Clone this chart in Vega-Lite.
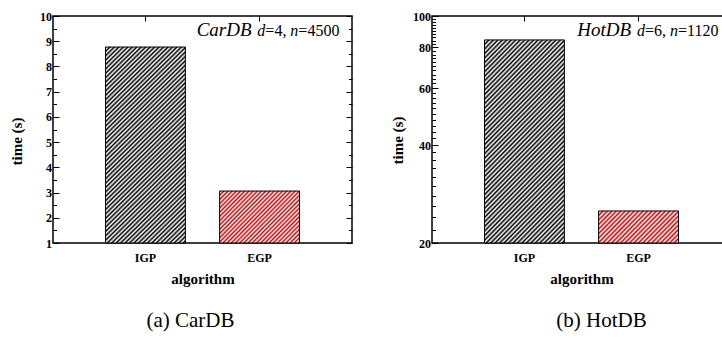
{
"$schema":"https://vega.github.io/schema/vega-lite/v6.json",
"background":"white",
"padding":{"left":8,"top":9,"right":0,"bottom":0},
"spacing":35,
"config":{
 "view":{"stroke":"#000","strokeWidth":1.5}
},
"hconcat":[
{
 "width":299,"height":227,
 "title":{"text":"(a) CarDB","orient":"bottom","anchor":"middle","frame":"group","dx":-12,"offset":24,"font":"Liberation Serif","fontSize":21,"fontWeight":"normal","color":"#000"},
 "data":{"values":[{"algorithm":"IGP","time":8.77},{"algorithm":"EGP","time":3.06}]},
 "resolve":{"axis":{"x":"independent","y":"independent"}},
 "layer":[
  {"transform":[{"filter":"datum.algorithm === 'IGP'"}],
   "mark":{"type":"bar","stroke":"#000","strokeWidth":1,"fill":{"gradient":"linear","x1":0,"y1":0,"x2":0.484,"y2":1.207,"stops":[
{"offset":0,"color":"#000"},{"offset":0.008,"color":"#fff"},{"offset":0.016,"color":"#000"},{"offset":0.024,"color":"#fff"},{"offset":0.032,"color":"#000"},{"offset":0.04,"color":"#fff"},{"offset":0.048,"color":"#000"},{"offset":0.056,"color":"#fff"},{"offset":0.064,"color":"#000"},{"offset":0.072,"color":"#fff"},
{"offset":0.08,"color":"#000"},{"offset":0.088,"color":"#fff"},{"offset":0.096,"color":"#000"},{"offset":0.104,"color":"#fff"},{"offset":0.112,"color":"#000"},{"offset":0.12,"color":"#fff"},{"offset":0.128,"color":"#000"},{"offset":0.136,"color":"#fff"},{"offset":0.144,"color":"#000"},{"offset":0.152,"color":"#fff"},
{"offset":0.16,"color":"#000"},{"offset":0.168,"color":"#fff"},{"offset":0.176,"color":"#000"},{"offset":0.184,"color":"#fff"},{"offset":0.192,"color":"#000"},{"offset":0.2,"color":"#fff"},{"offset":0.208,"color":"#000"},{"offset":0.216,"color":"#fff"},{"offset":0.224,"color":"#000"},{"offset":0.232,"color":"#fff"},
{"offset":0.24,"color":"#000"},{"offset":0.248,"color":"#fff"},{"offset":0.256,"color":"#000"},{"offset":0.264,"color":"#fff"},{"offset":0.272,"color":"#000"},{"offset":0.28,"color":"#fff"},{"offset":0.288,"color":"#000"},{"offset":0.296,"color":"#fff"},{"offset":0.304,"color":"#000"},{"offset":0.312,"color":"#fff"},
{"offset":0.32,"color":"#000"},{"offset":0.328,"color":"#fff"},{"offset":0.336,"color":"#000"},{"offset":0.344,"color":"#fff"},{"offset":0.352,"color":"#000"},{"offset":0.36,"color":"#fff"},{"offset":0.368,"color":"#000"},{"offset":0.376,"color":"#fff"},{"offset":0.384,"color":"#000"},{"offset":0.392,"color":"#fff"},
{"offset":0.4,"color":"#000"},{"offset":0.408,"color":"#fff"},{"offset":0.416,"color":"#000"},{"offset":0.424,"color":"#fff"},{"offset":0.432,"color":"#000"},{"offset":0.44,"color":"#fff"},{"offset":0.448,"color":"#000"},{"offset":0.456,"color":"#fff"},{"offset":0.464,"color":"#000"},{"offset":0.472,"color":"#fff"},
{"offset":0.48,"color":"#000"},{"offset":0.488,"color":"#fff"},{"offset":0.496,"color":"#000"},{"offset":0.504,"color":"#fff"},{"offset":0.512,"color":"#000"},{"offset":0.52,"color":"#fff"},{"offset":0.528,"color":"#000"},{"offset":0.536,"color":"#fff"},{"offset":0.544,"color":"#000"},{"offset":0.552,"color":"#fff"},
{"offset":0.56,"color":"#000"},{"offset":0.568,"color":"#fff"},{"offset":0.576,"color":"#000"},{"offset":0.584,"color":"#fff"},{"offset":0.592,"color":"#000"},{"offset":0.6,"color":"#fff"},{"offset":0.608,"color":"#000"},{"offset":0.616,"color":"#fff"},{"offset":0.624,"color":"#000"},{"offset":0.632,"color":"#fff"},
{"offset":0.64,"color":"#000"},{"offset":0.648,"color":"#fff"},{"offset":0.656,"color":"#000"},{"offset":0.664,"color":"#fff"},{"offset":0.672,"color":"#000"},{"offset":0.68,"color":"#fff"},{"offset":0.688,"color":"#000"},{"offset":0.696,"color":"#fff"},{"offset":0.704,"color":"#000"},{"offset":0.712,"color":"#fff"},
{"offset":0.72,"color":"#000"},{"offset":0.728,"color":"#fff"},{"offset":0.736,"color":"#000"},{"offset":0.744,"color":"#fff"},{"offset":0.752,"color":"#000"},{"offset":0.76,"color":"#fff"},{"offset":0.768,"color":"#000"},{"offset":0.776,"color":"#fff"},{"offset":0.784,"color":"#000"},{"offset":0.792,"color":"#fff"},
{"offset":0.8,"color":"#000"},{"offset":0.808,"color":"#fff"},{"offset":0.816,"color":"#000"},{"offset":0.824,"color":"#fff"},{"offset":0.832,"color":"#000"},{"offset":0.84,"color":"#fff"},{"offset":0.848,"color":"#000"},{"offset":0.856,"color":"#fff"},{"offset":0.864,"color":"#000"},{"offset":0.872,"color":"#fff"},
{"offset":0.88,"color":"#000"},{"offset":0.888,"color":"#fff"},{"offset":0.896,"color":"#000"},{"offset":0.904,"color":"#fff"},{"offset":0.912,"color":"#000"},{"offset":0.92,"color":"#fff"},{"offset":0.928,"color":"#000"},{"offset":0.936,"color":"#fff"},{"offset":0.944,"color":"#000"},{"offset":0.952,"color":"#fff"},
{"offset":0.96,"color":"#000"},{"offset":0.968,"color":"#fff"},{"offset":0.976,"color":"#000"},{"offset":0.984,"color":"#fff"},{"offset":0.992,"color":"#000"},{"offset":1,"color":"#fff"}
]}},
   "encoding":{
    "x":{"field":"algorithm","type":"nominal","sort":["IGP","EGP"],"scale":{"domain":["IGP","EGP"],"paddingInner":0.3,"paddingOuter":0.46},
         "axis":{"orient":"bottom","labelAngle":0,"ticks":false,"domain":false,"labelFont":"Liberation Serif","labelFontWeight":"bold","labelFontSize":12,"labelColor":"#000","labelPadding":9,"title":"algorithm","titleFont":"Liberation Serif","titleFontWeight":"bold","titleFontSize":15,"titleColor":"#000","titlePadding":8}},
    "y":{"field":"time","type":"quantitative","scale":{"domain":[1,10],"nice":false,"zero":false},
         "axis":{"orient":"left","values":[1,1.5,2,2.5,3,3.5,4,4.5,5,5.5,6,6.5,7,7.5,8,8.5,9,9.5,10],"labelExpr":"datum.value % 1 === 0 ? format(datum.value, 'd') : ''","tickSize":{"condition":{"test":"datum.value % 1 === 0","value":-6},"value":-3.5},"tickColor":"#000","tickWidth":1,"domain":false,"grid":false,"labelFont":"Liberation Serif","labelFontWeight":"bold","labelFontSize":12,"labelColor":"#000","labelPadding":7.5,"title":"time (s)","titleFont":"Liberation Serif","titleFontWeight":"bold","titleFontSize":15,"titleColor":"#000","titlePadding":15,"titleY":125}},
    "y2":{"datum":1}}},
  {"transform":[{"filter":"datum.algorithm === 'EGP'"}],
   "mark":{"type":"bar","stroke":"#000","strokeWidth":1,"fill":{"gradient":"linear","x1":0,"y1":0,"x2":1.163,"y2":0.747,"stops":[
{"offset":0,"color":"#c00"},{"offset":0.016,"color":"#fff"},{"offset":0.032,"color":"#c00"},{"offset":0.048,"color":"#fff"},{"offset":0.064,"color":"#c00"},{"offset":0.08,"color":"#fff"},{"offset":0.096,"color":"#c00"},{"offset":0.112,"color":"#fff"},{"offset":0.128,"color":"#c00"},{"offset":0.144,"color":"#fff"},
{"offset":0.16,"color":"#c00"},{"offset":0.176,"color":"#fff"},{"offset":0.192,"color":"#c00"},{"offset":0.208,"color":"#fff"},{"offset":0.224,"color":"#c00"},{"offset":0.24,"color":"#fff"},{"offset":0.256,"color":"#c00"},{"offset":0.272,"color":"#fff"},{"offset":0.288,"color":"#c00"},{"offset":0.304,"color":"#fff"},
{"offset":0.32,"color":"#c00"},{"offset":0.336,"color":"#fff"},{"offset":0.352,"color":"#c00"},{"offset":0.368,"color":"#fff"},{"offset":0.384,"color":"#c00"},{"offset":0.4,"color":"#fff"},{"offset":0.416,"color":"#c00"},{"offset":0.432,"color":"#fff"},{"offset":0.448,"color":"#c00"},{"offset":0.464,"color":"#fff"},
{"offset":0.48,"color":"#c00"},{"offset":0.496,"color":"#fff"},{"offset":0.512,"color":"#c00"},{"offset":0.528,"color":"#fff"},{"offset":0.544,"color":"#c00"},{"offset":0.56,"color":"#fff"},{"offset":0.576,"color":"#c00"},{"offset":0.592,"color":"#fff"},{"offset":0.608,"color":"#c00"},{"offset":0.624,"color":"#fff"},
{"offset":0.64,"color":"#c00"},{"offset":0.656,"color":"#fff"},{"offset":0.672,"color":"#c00"},{"offset":0.688,"color":"#fff"},{"offset":0.704,"color":"#c00"},{"offset":0.72,"color":"#fff"},{"offset":0.736,"color":"#c00"},{"offset":0.752,"color":"#fff"},{"offset":0.768,"color":"#c00"},{"offset":0.784,"color":"#fff"},
{"offset":0.8,"color":"#c00"},{"offset":0.816,"color":"#fff"},{"offset":0.832,"color":"#c00"},{"offset":0.848,"color":"#fff"},{"offset":0.864,"color":"#c00"},{"offset":0.88,"color":"#fff"},{"offset":0.896,"color":"#c00"},{"offset":0.912,"color":"#fff"},{"offset":0.928,"color":"#c00"},{"offset":0.944,"color":"#fff"},
{"offset":0.96,"color":"#c00"},{"offset":0.976,"color":"#fff"},{"offset":0.992,"color":"#c00"}
]}},
   "encoding":{"x":{"field":"algorithm","type":"nominal","axis":null},"y":{"field":"time","type":"quantitative","axis":null},"y2":{"datum":1}}},
  {"data":{"values":[{}]},
   "mark":{"type":"text","text":"CarDB","font":"Liberation Serif","fontStyle":"italic","fontSize":19,"align":"right","baseline":"alphabetic","dx":-8,"color":"#000"},
   "encoding":{
    "x":{"datum":"EGP","type":"nominal","axis":{"orient":"top","labels":false,"tickSize":-5,"tickColor":"#000","domain":false,"title":null}},
    "y":{"datum":9.21,"type":"quantitative","axis":{"orient":"right","values":[1,1.5,2,2.5,3,3.5,4,4.5,5,5.5,6,6.5,7,7.5,8,8.5,9,9.5,10],"labels":false,"tickSize":{"condition":{"test":"datum.value % 1 === 0","value":-6},"value":-3.5},"tickColor":"#000","domain":false,"grid":false,"title":null}}}},
  {"data":{"values":[{}]},
   "mark":{"type":"text","text":"d","font":"Liberation Serif","fontStyle":"italic","fontSize":16,"align":"left","baseline":"alphabetic","dx":-2.2,"color":"#000"},
   "encoding":{"x":{"datum":"EGP","type":"nominal","axis":null},"y":{"datum":9.21,"type":"quantitative","axis":null}}},
  {"data":{"values":[{}]},
   "mark":{"type":"text","text":"=4,","font":"Liberation Serif","fontSize":16,"align":"left","baseline":"alphabetic","dx":5.8,"color":"#000"},
   "encoding":{"x":{"datum":"EGP","type":"nominal","axis":null},"y":{"datum":9.21,"type":"quantitative","axis":null}}},
  {"data":{"values":[{}]},
   "mark":{"type":"text","text":"n","font":"Liberation Serif","fontStyle":"italic","fontSize":16,"align":"left","baseline":"alphabetic","dx":30.8,"color":"#000"},
   "encoding":{"x":{"datum":"EGP","type":"nominal","axis":null},"y":{"datum":9.21,"type":"quantitative","axis":null}}},
  {"data":{"values":[{}]},
   "mark":{"type":"text","text":"=4500","font":"Liberation Serif","fontSize":16,"align":"left","baseline":"alphabetic","dx":38.8,"color":"#000"},
   "encoding":{"x":{"datum":"EGP","type":"nominal","axis":null},"y":{"datum":9.21,"type":"quantitative","axis":null}}}
 ]
},
{
 "width":299,"height":227,
 "title":{"text":"(b) HotDB","orient":"bottom","anchor":"middle","frame":"group","dx":20,"offset":24,"font":"Liberation Serif","fontSize":21,"fontWeight":"normal","color":"#000"},
 "data":{"values":[{"algorithm":"IGP","time":84.4},{"algorithm":"EGP","time":25.1}]},
 "resolve":{"axis":{"x":"independent","y":"independent"}},
 "layer":[
  {"transform":[{"filter":"datum.algorithm === 'IGP'"}],
   "mark":{"type":"bar","stroke":"#000","strokeWidth":1,"fill":{"gradient":"linear","x1":0,"y1":0,"x2":0.484,"y2":1.207,"stops":[
{"offset":0,"color":"#000"},{"offset":0.008,"color":"#fff"},{"offset":0.016,"color":"#000"},{"offset":0.024,"color":"#fff"},{"offset":0.032,"color":"#000"},{"offset":0.04,"color":"#fff"},{"offset":0.048,"color":"#000"},{"offset":0.056,"color":"#fff"},{"offset":0.064,"color":"#000"},{"offset":0.072,"color":"#fff"},
{"offset":0.08,"color":"#000"},{"offset":0.088,"color":"#fff"},{"offset":0.096,"color":"#000"},{"offset":0.104,"color":"#fff"},{"offset":0.112,"color":"#000"},{"offset":0.12,"color":"#fff"},{"offset":0.128,"color":"#000"},{"offset":0.136,"color":"#fff"},{"offset":0.144,"color":"#000"},{"offset":0.152,"color":"#fff"},
{"offset":0.16,"color":"#000"},{"offset":0.168,"color":"#fff"},{"offset":0.176,"color":"#000"},{"offset":0.184,"color":"#fff"},{"offset":0.192,"color":"#000"},{"offset":0.2,"color":"#fff"},{"offset":0.208,"color":"#000"},{"offset":0.216,"color":"#fff"},{"offset":0.224,"color":"#000"},{"offset":0.232,"color":"#fff"},
{"offset":0.24,"color":"#000"},{"offset":0.248,"color":"#fff"},{"offset":0.256,"color":"#000"},{"offset":0.264,"color":"#fff"},{"offset":0.272,"color":"#000"},{"offset":0.28,"color":"#fff"},{"offset":0.288,"color":"#000"},{"offset":0.296,"color":"#fff"},{"offset":0.304,"color":"#000"},{"offset":0.312,"color":"#fff"},
{"offset":0.32,"color":"#000"},{"offset":0.328,"color":"#fff"},{"offset":0.336,"color":"#000"},{"offset":0.344,"color":"#fff"},{"offset":0.352,"color":"#000"},{"offset":0.36,"color":"#fff"},{"offset":0.368,"color":"#000"},{"offset":0.376,"color":"#fff"},{"offset":0.384,"color":"#000"},{"offset":0.392,"color":"#fff"},
{"offset":0.4,"color":"#000"},{"offset":0.408,"color":"#fff"},{"offset":0.416,"color":"#000"},{"offset":0.424,"color":"#fff"},{"offset":0.432,"color":"#000"},{"offset":0.44,"color":"#fff"},{"offset":0.448,"color":"#000"},{"offset":0.456,"color":"#fff"},{"offset":0.464,"color":"#000"},{"offset":0.472,"color":"#fff"},
{"offset":0.48,"color":"#000"},{"offset":0.488,"color":"#fff"},{"offset":0.496,"color":"#000"},{"offset":0.504,"color":"#fff"},{"offset":0.512,"color":"#000"},{"offset":0.52,"color":"#fff"},{"offset":0.528,"color":"#000"},{"offset":0.536,"color":"#fff"},{"offset":0.544,"color":"#000"},{"offset":0.552,"color":"#fff"},
{"offset":0.56,"color":"#000"},{"offset":0.568,"color":"#fff"},{"offset":0.576,"color":"#000"},{"offset":0.584,"color":"#fff"},{"offset":0.592,"color":"#000"},{"offset":0.6,"color":"#fff"},{"offset":0.608,"color":"#000"},{"offset":0.616,"color":"#fff"},{"offset":0.624,"color":"#000"},{"offset":0.632,"color":"#fff"},
{"offset":0.64,"color":"#000"},{"offset":0.648,"color":"#fff"},{"offset":0.656,"color":"#000"},{"offset":0.664,"color":"#fff"},{"offset":0.672,"color":"#000"},{"offset":0.68,"color":"#fff"},{"offset":0.688,"color":"#000"},{"offset":0.696,"color":"#fff"},{"offset":0.704,"color":"#000"},{"offset":0.712,"color":"#fff"},
{"offset":0.72,"color":"#000"},{"offset":0.728,"color":"#fff"},{"offset":0.736,"color":"#000"},{"offset":0.744,"color":"#fff"},{"offset":0.752,"color":"#000"},{"offset":0.76,"color":"#fff"},{"offset":0.768,"color":"#000"},{"offset":0.776,"color":"#fff"},{"offset":0.784,"color":"#000"},{"offset":0.792,"color":"#fff"},
{"offset":0.8,"color":"#000"},{"offset":0.808,"color":"#fff"},{"offset":0.816,"color":"#000"},{"offset":0.824,"color":"#fff"},{"offset":0.832,"color":"#000"},{"offset":0.84,"color":"#fff"},{"offset":0.848,"color":"#000"},{"offset":0.856,"color":"#fff"},{"offset":0.864,"color":"#000"},{"offset":0.872,"color":"#fff"},
{"offset":0.88,"color":"#000"},{"offset":0.888,"color":"#fff"},{"offset":0.896,"color":"#000"},{"offset":0.904,"color":"#fff"},{"offset":0.912,"color":"#000"},{"offset":0.92,"color":"#fff"},{"offset":0.928,"color":"#000"},{"offset":0.936,"color":"#fff"},{"offset":0.944,"color":"#000"},{"offset":0.952,"color":"#fff"},
{"offset":0.96,"color":"#000"},{"offset":0.968,"color":"#fff"},{"offset":0.976,"color":"#000"},{"offset":0.984,"color":"#fff"},{"offset":0.992,"color":"#000"},{"offset":1,"color":"#fff"}
]}},
   "encoding":{
    "x":{"field":"algorithm","type":"nominal","sort":["IGP","EGP"],"scale":{"domain":["IGP","EGP"],"paddingInner":0.3,"paddingOuter":0.46},
         "axis":{"orient":"bottom","labelAngle":0,"ticks":false,"domain":false,"labelFont":"Liberation Serif","labelFontWeight":"bold","labelFontSize":12,"labelColor":"#000","labelPadding":9,"title":"algorithm","titleFont":"Liberation Serif","titleFontWeight":"bold","titleFontSize":15,"titleColor":"#000","titlePadding":8}},
    "y":{"field":"time","type":"quantitative","scale":{"type":"log","domain":[20,100],"nice":false,"zero":false},
         "axis":{"orient":"left","values":[20,22,24,26,28,30,32,34,36,38,40,42,44,46,48,50,52,54,56,58,60,62,64,66,68,70,72,74,76,78,80,82,84,86,88,90,92,94,96,98,100],"labelExpr":"datum.value % 20 === 0 ? format(datum.value, 'd') : ''","tickSize":{"condition":{"test":"datum.value % 20 === 0","value":-6},"value":-3.5},"tickColor":"#000","tickWidth":1,"domain":false,"grid":false,"labelFont":"Liberation Serif","labelFontWeight":"bold","labelFontSize":12,"labelColor":"#000","labelPadding":7.5,"title":"time (s)","titleFont":"Liberation Serif","titleFontWeight":"bold","titleFontSize":15,"titleColor":"#000","titlePadding":7,"titleY":124}},
    "y2":{"datum":20}}},
  {"transform":[{"filter":"datum.algorithm === 'EGP'"}],
   "mark":{"type":"bar","stroke":"#000","strokeWidth":1,"fill":{"gradient":"linear","x1":0,"y1":0,"x2":1.207,"y2":0.477,"stops":[
{"offset":0,"color":"#c00"},{"offset":0.02,"color":"#fff"},{"offset":0.04,"color":"#c00"},{"offset":0.06,"color":"#fff"},{"offset":0.08,"color":"#c00"},{"offset":0.1,"color":"#fff"},{"offset":0.12,"color":"#c00"},{"offset":0.14,"color":"#fff"},{"offset":0.16,"color":"#c00"},{"offset":0.18,"color":"#fff"},
{"offset":0.2,"color":"#c00"},{"offset":0.22,"color":"#fff"},{"offset":0.24,"color":"#c00"},{"offset":0.26,"color":"#fff"},{"offset":0.28,"color":"#c00"},{"offset":0.3,"color":"#fff"},{"offset":0.32,"color":"#c00"},{"offset":0.34,"color":"#fff"},{"offset":0.36,"color":"#c00"},{"offset":0.38,"color":"#fff"},
{"offset":0.4,"color":"#c00"},{"offset":0.42,"color":"#fff"},{"offset":0.44,"color":"#c00"},{"offset":0.46,"color":"#fff"},{"offset":0.48,"color":"#c00"},{"offset":0.5,"color":"#fff"},{"offset":0.52,"color":"#c00"},{"offset":0.54,"color":"#fff"},{"offset":0.56,"color":"#c00"},{"offset":0.58,"color":"#fff"},
{"offset":0.6,"color":"#c00"},{"offset":0.62,"color":"#fff"},{"offset":0.64,"color":"#c00"},{"offset":0.66,"color":"#fff"},{"offset":0.68,"color":"#c00"},{"offset":0.7,"color":"#fff"},{"offset":0.72,"color":"#c00"},{"offset":0.74,"color":"#fff"},{"offset":0.76,"color":"#c00"},{"offset":0.78,"color":"#fff"},
{"offset":0.8,"color":"#c00"},{"offset":0.82,"color":"#fff"},{"offset":0.84,"color":"#c00"},{"offset":0.86,"color":"#fff"},{"offset":0.88,"color":"#c00"},{"offset":0.9,"color":"#fff"},{"offset":0.92,"color":"#c00"},{"offset":0.94,"color":"#fff"},{"offset":0.96,"color":"#c00"},{"offset":0.98,"color":"#fff"},
{"offset":1,"color":"#c00"}
]}},
   "encoding":{"x":{"field":"algorithm","type":"nominal","axis":null},"y":{"field":"time","type":"quantitative","axis":null},"y2":{"datum":20}}},
  {"data":{"values":[{}]},
   "mark":{"type":"text","text":"HotDB","font":"Liberation Serif","fontStyle":"italic","fontSize":19,"align":"right","baseline":"alphabetic","dx":-7.5,"color":"#000"},
   "encoding":{
    "x":{"datum":"EGP","type":"nominal","axis":{"orient":"top","labels":false,"tickSize":-5,"tickColor":"#000","domain":false,"title":null}},
    "y":{"datum":86.8,"type":"quantitative","axis":{"orient":"right","values":[20,22,24,26,28,30,32,34,36,38,40,42,44,46,48,50,52,54,56,58,60,62,64,66,68,70,72,74,76,78,80,82,84,86,88,90,92,94,96,98,100],"labels":false,"tickSize":{"condition":{"test":"datum.value % 20 === 0","value":-6},"value":-3.5},"tickColor":"#000","domain":false,"grid":false,"title":null}}}},
  {"data":{"values":[{}]},
   "mark":{"type":"text","text":"d","font":"Liberation Serif","fontStyle":"italic","fontSize":16,"align":"left","baseline":"alphabetic","dx":-1.5,"color":"#000"},
   "encoding":{"x":{"datum":"EGP","type":"nominal","axis":null},"y":{"datum":86.8,"type":"quantitative","axis":null}}},
  {"data":{"values":[{}]},
   "mark":{"type":"text","text":"=6,","font":"Liberation Serif","fontSize":16,"align":"left","baseline":"alphabetic","dx":6.5,"color":"#000"},
   "encoding":{"x":{"datum":"EGP","type":"nominal","axis":null},"y":{"datum":86.8,"type":"quantitative","axis":null}}},
  {"data":{"values":[{}]},
   "mark":{"type":"text","text":"n","font":"Liberation Serif","fontStyle":"italic","fontSize":16,"align":"left","baseline":"alphabetic","dx":31.5,"color":"#000"},
   "encoding":{"x":{"datum":"EGP","type":"nominal","axis":null},"y":{"datum":86.8,"type":"quantitative","axis":null}}},
  {"data":{"values":[{}]},
   "mark":{"type":"text","text":"=1120","font":"Liberation Serif","fontSize":16,"align":"left","baseline":"alphabetic","dx":39.5,"color":"#000"},
   "encoding":{"x":{"datum":"EGP","type":"nominal","axis":null},"y":{"datum":86.8,"type":"quantitative","axis":null}}}
 ]
}
]
}
